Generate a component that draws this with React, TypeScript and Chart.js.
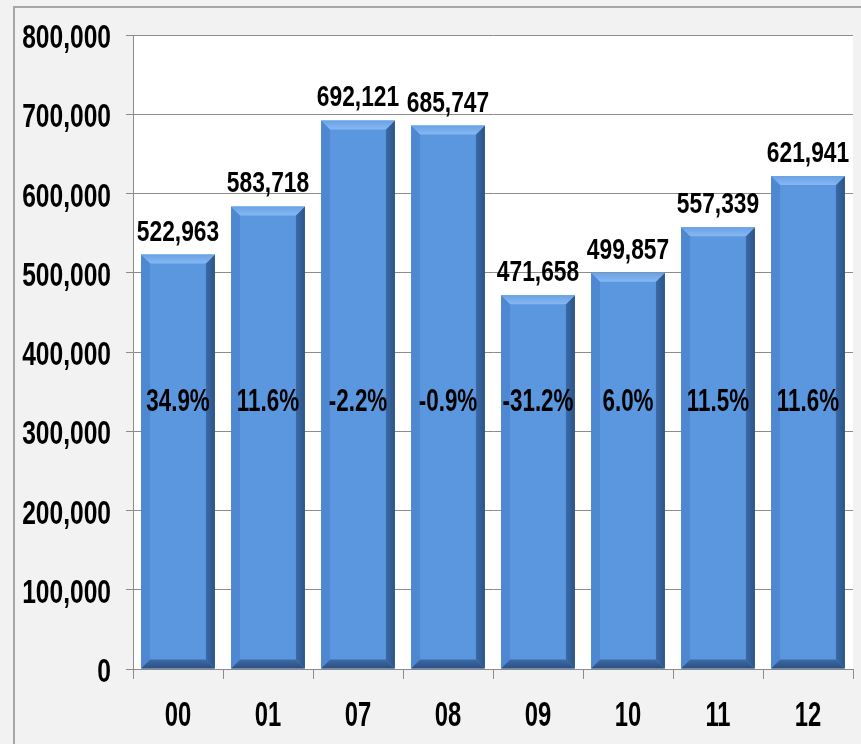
import React, { useEffect, useRef } from "react";
import { Chart, registerables } from "chart.js";

Chart.register(...registerables);

const categories = ["00", "01", "07", "08", "09", "10", "11", "12"];
const values = [522963, 583718, 692121, 685747, 471658, 499857, 557339, 621941];
const growth = ["34.9%", "11.6%", "-2.2%", "-0.9%", "-31.2%", "6.0%", "11.5%", "11.6%"];
const growthLabelLevel = 325000;

const FONT = "'Liberation Sans', Arial, sans-serif";

function narrowText(ctx: any, text: string, x: number, y: number, align: string, size: number, f: number) {
  ctx.save();
  ctx.translate(x, y);
  ctx.scale(f, 1);
  ctx.font = `bold ${size}px ${FONT}`;
  ctx.fillStyle = "#000000";
  ctx.textAlign = align;
  ctx.textBaseline = "alphabetic";
  ctx.fillText(text, 0, 0);
  ctx.restore();
}

const bgPlugin = {
  id: "bg",
  beforeDraw(chart: any) {
    const { ctx, width, height, chartArea } = chart;
    ctx.save();
    ctx.fillStyle = "#f2f2f2";
    ctx.fillRect(0, 0, width, height);
    ctx.strokeStyle = "#a6a6a6";
    ctx.lineWidth = 2;
    ctx.beginPath();
    ctx.moveTo(14, height + 5);
    ctx.lineTo(14, 7);
    ctx.lineTo(width + 5, 7);
    ctx.stroke();
    ctx.fillStyle = "#ffffff";
    ctx.fillRect(chartArea.left, chartArea.top, chartArea.right - chartArea.left, chartArea.bottom - chartArea.top);
    ctx.restore();
  },
};

const axisLabelPlugin = {
  id: "axisLabels",
  afterDraw(chart: any) {
    const { ctx, scales, chartArea } = chart;
    scales.y.ticks.forEach((t: any) => {
      const y = scales.y.getPixelForValue(t.value);
      narrowText(ctx, Number(t.value).toLocaleString("en-US"), 111, y + 13, "right", 33, 0.745);
    });
    categories.forEach((c, i) => {
      const x = scales.x.getPixelForValue(i);
      narrowText(ctx, c, x, chartArea.bottom + 57, "center", 35, 0.68);
    });
  },
};

const bevelPlugin = {
  id: "bevel",
  afterDatasetsDraw(chart: any) {
    const { ctx } = chart;
    const meta = chart.getDatasetMeta(0);
    const yScale = chart.scales.y;
    ctx.save();
    meta.data.forEach((el: any, i: number) => {
      const p = el.getProps(["x", "y", "base", "width"], true);
      const l = p.x - p.width / 2;
      const r = p.x + p.width / 2;
      const t = p.y;
      const b = p.base;
      const s = 9;
      ctx.fillStyle = "#4f88d2";
      ctx.beginPath();
      ctx.moveTo(l, t);
      ctx.lineTo(l + s, t + s);
      ctx.lineTo(l + s, b - s);
      ctx.lineTo(l, b);
      ctx.closePath();
      ctx.fill();
      const gr = ctx.createLinearGradient(r - s, 0, r, 0);
      gr.addColorStop(0, "#3a6aa8");
      gr.addColorStop(1, "#2c5487");
      ctx.fillStyle = gr;
      ctx.beginPath();
      ctx.moveTo(r, t);
      ctx.lineTo(r - s, t + s);
      ctx.lineTo(r - s, b - s);
      ctx.lineTo(r, b);
      ctx.closePath();
      ctx.fill();
      const gb = ctx.createLinearGradient(0, b - s, 0, b);
      gb.addColorStop(0, "#3d6aa6");
      gb.addColorStop(1, "#2b4f80");
      ctx.fillStyle = gb;
      ctx.beginPath();
      ctx.moveTo(l, b);
      ctx.lineTo(l + s, b - s);
      ctx.lineTo(r - s, b - s);
      ctx.lineTo(r, b);
      ctx.closePath();
      ctx.fill();
      const gt = ctx.createLinearGradient(0, t, 0, t + s);
      gt.addColorStop(0, "#6aa2e6");
      gt.addColorStop(1, "#86b8f2");
      ctx.fillStyle = gt;
      ctx.beginPath();
      ctx.moveTo(l, t);
      ctx.lineTo(r, t);
      ctx.lineTo(r - s, t + s);
      ctx.lineTo(l + s, t + s);
      ctx.closePath();
      ctx.fill();

      narrowText(ctx, values[i].toLocaleString("en-US"), p.x, t - 14, "center", 30, 0.76);
      narrowText(ctx, growth[i], p.x, yScale.getPixelForValue(growthLabelLevel), "center", 32, 0.7);
    });
    ctx.restore();
  },
};

export default function App() {
  const ref = useRef<HTMLCanvasElement | null>(null);
  useEffect(() => {
    if (!ref.current) return;
    const chart = new Chart(ref.current, {
      type: "bar",
      data: {
        labels: categories,
        datasets: [
          {
            data: values,
            backgroundColor: "#5b97df",
            borderWidth: 0,
            barPercentage: 0.82,
            categoryPercentage: 1,
          },
        ],
      },
      options: {
        animation: false,
        responsive: false,
        maintainAspectRatio: false,
        layout: { padding: { left: 0, right: 8, top: 35, bottom: 0 } },
        plugins: { legend: { display: false }, tooltip: { enabled: false } },
        scales: {
          x: {
            grid: {
              offset: true,
              drawOnChartArea: false,
              drawTicks: true,
              tickLength: 10,
              color: "#8c8c8c",
            },
            border: { display: true, color: "#8c8c8c", width: 1 },
            ticks: { display: false },
            afterFit: (s: any) => {
              s.height = 75;
            },
          },
          y: {
            min: 0,
            max: 800000,
            grid: { color: "#8c8c8c", tickLength: 7, drawTicks: true },
            border: { display: true, color: "#8c8c8c", width: 1 },
            ticks: { stepSize: 100000, display: false },
            afterFit: (s: any) => {
              s.width = 133;
            },
          },
        },
      },
      plugins: [bgPlugin, bevelPlugin, axisLabelPlugin],
    });
    return () => chart.destroy();
  }, []);
  return (
    <div style={{ position: "fixed", left: 0, top: 0, width: 861, height: 744 }}>
      <canvas ref={ref} width={861} height={744} style={{ display: "block" }} />
    </div>
  );
}
